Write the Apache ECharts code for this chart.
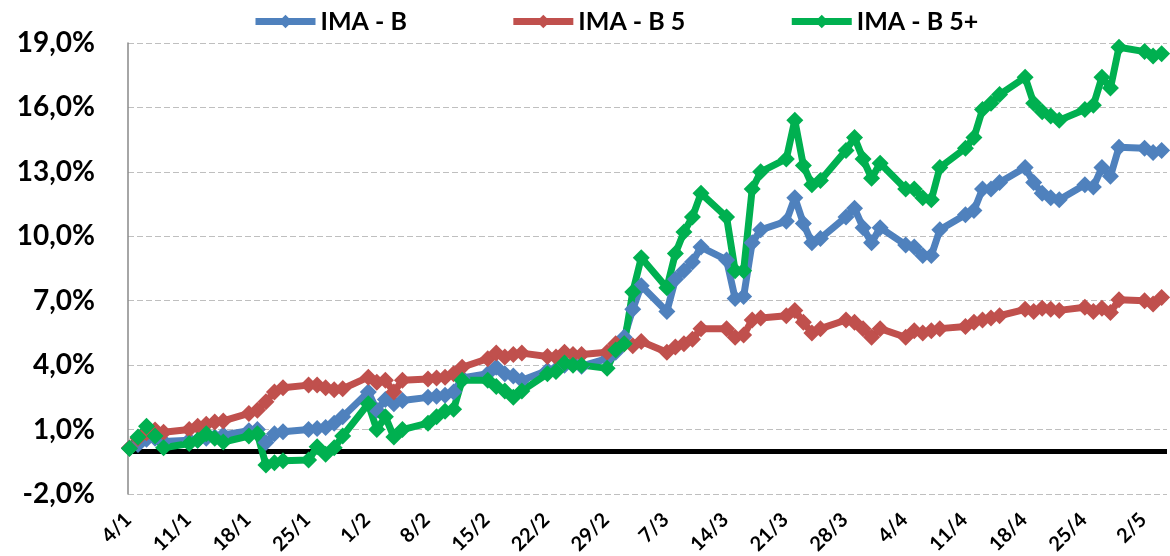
<!DOCTYPE html>
<html>
<head>
<meta charset="utf-8">
<script src="https://cdn.jsdelivr.net/npm/echarts@6/dist/echarts.min.js"></script>
<style>
html,body{margin:0;padding:0;background:#fff;}
#chart{width:1170px;height:556px;}
</style>
</head>
<body>
<div id="chart"></div>
<script>
// Dates (d/m, 2012) of the observations
const dates = ['2/1','3/1','4/1','5/1','6/1','9/1','10/1','11/1','12/1','13/1','16/1','17/1','18/1','19/1','20/1','23/1','24/1','25/1','26/1','27/1','30/1','31/1',
'1/2','2/2','3/2','6/2','7/2','8/2','9/2','10/2','13/2','14/2','15/2','16/2','17/2','20/2','21/2','22/2','23/2','24/2','27/2','28/2','29/2',
'1/3','2/3','5/3','6/3','7/3','8/3','9/3','12/3','13/3','14/3','15/3','16/3','19/3','20/3','21/3','22/3','23/3','26/3','27/3','28/3','29/3','30/3',
'2/4','3/4','4/4','5/4','6/4','9/4','10/4','11/4','12/4','13/4','16/4','17/4','18/4','19/4','20/4','23/4','24/4','25/4','26/4','27/4','30/4',
'1/5','2/5'];

// IMA - B (%)
const imaB = [0.14,0.3,0.55,0.6,0.45,0.5,0.5,0.6,0.65,0.75,0.95,1.0,0.4,0.8,0.9,1.0,1.05,1.1,1.3,1.6,2.75,1.9,
2.4,2.2,2.35,2.5,2.55,2.6,2.75,3.4,3.6,3.9,3.6,3.5,3.3,3.75,3.8,4.0,4.1,3.95,4.3,4.6,5.3,
6.6,7.7,6.5,8.0,8.4,8.8,9.5,8.9,7.1,7.2,9.7,10.3,10.7,11.8,10.6,9.7,9.9,10.9,11.3,10.4,9.7,10.4,
9.6,9.5,9.1,9.1,10.3,11.0,11.2,12.2,12.2,12.5,13.2,12.5,12.0,11.8,11.7,12.4,12.3,13.2,12.8,14.15,14.1,
13.9,14.0];

// IMA - B 5 (%)
const imaB5 = [0.14,0.6,0.85,0.98,0.88,1.0,1.15,1.25,1.35,1.4,1.75,1.9,2.3,2.75,2.95,3.07,3.07,2.95,2.85,2.9,3.44,3.2,
3.3,2.75,3.3,3.35,3.4,3.44,3.6,3.9,4.3,4.56,4.38,4.5,4.56,4.4,4.38,4.6,4.5,4.5,4.6,5.0,5.0,
4.9,5.1,4.6,4.85,5.0,5.2,5.7,5.7,5.3,5.4,6.1,6.2,6.3,6.55,6.0,5.5,5.7,6.1,6.0,5.7,5.3,5.7,
5.3,5.6,5.5,5.6,5.7,5.8,6.0,6.1,6.2,6.3,6.6,6.5,6.65,6.6,6.55,6.7,6.5,6.65,6.45,7.05,7.0,
6.85,7.15];

// IMA - B 5+ (%)
const imaB5p = [0.12,0.65,1.15,0.7,0.15,0.35,0.5,0.8,0.6,0.42,0.7,0.8,-0.65,-0.55,-0.45,-0.42,0.2,-0.15,0.15,0.7,2.2,1.0,
1.6,0.65,1.0,1.3,1.6,1.85,1.95,3.3,3.3,3.0,2.8,2.5,2.8,3.6,3.7,4.1,4.0,4.0,3.85,4.7,5.0,
7.4,9.0,7.6,9.2,10.2,10.9,12.0,10.9,8.4,8.4,12.2,13.0,13.6,15.4,13.3,12.4,12.6,14.0,14.6,13.6,12.7,13.4,
12.2,12.2,11.8,11.7,13.2,14.1,14.6,15.9,16.2,16.6,17.4,16.2,15.8,15.6,15.4,15.9,16.1,17.4,16.9,18.8,18.6,
18.4,18.5];

// X-axis tick labels
const tickLabels = ['4/1','11/1','18/1','25/1','1/2','8/2','15/2','22/2','29/2','7/3','14/3','21/3','28/3','4/4','11/4','18/4','25/4','2/5'];

const seriesNames = ['IMA - B','IMA - B 5','IMA - B 5+'];
const seriesColors = ['#4F81BD','#C0504D','#00B050'];

function dayIndex(s){
  const p = s.split('/');
  const t = Date.UTC(2012, +p[1]-1, +p[0]);
  return Math.round((t - Date.UTC(2012,0,4))/86400000);
}
const tickDays = tickLabels.map(dayIndex);
const labelByDay = {};
tickLabels.forEach((l,i)=>{ labelByDay[tickDays[i]] = l; });

function toPairs(vals){ return dates.map((d,i)=>[dayIndex(d), vals[i]]); }

const FONT = 'Lato, "Open Sans", "Liberation Sans", sans-serif';

const chart = echarts.init(document.getElementById('chart'), null, {renderer:'canvas'});
const mkSeries = (name, vals, color, extra) => Object.assign({
  name, type:'line', data: toPairs(vals),
  symbol:'diamond', symbolSize:17,
  itemStyle:{color}, lineStyle:{color, width:7},
  animation:false
}, extra || {});

chart.setOption({
  animation:false,
  legend:{
    top:4, left:247, itemGap:103, itemWidth:60, itemHeight:17,
    textStyle:{fontFamily:FONT, fontWeight:'bold', fontSize:25, color:'#000'},
    lineStyle:{width:7},
    data: seriesNames
  },
  grid:{left:128, right:3, top:43, bottom:62, containLabel:false, outerBoundsMode:'none'},
  xAxis:{
    type:'value', min:-2.17, max:119.63,
    axisLine:{show:false, onZero:false}, axisTick:{show:false}, splitLine:{show:false},
    axisLabel:{
      customValues: tickDays,
      rotate:45, margin:4, padding:[0,26,43,0],
      fontFamily:FONT, fontWeight:'bold', fontSize:20, color:'#000',
      formatter:(v)=> labelByDay[Math.round(v)] || ''
    }
  },
  yAxis:{
    type:'value', min:-2, max:19, interval:3,
    axisLine:{show:true, onZero:false, lineStyle:{color:'#888', width:1.5}},
    axisTick:{show:false},
    splitLine:{show:true, lineStyle:{color:'#BFBFBF', type:[6,3], width:1.2}},
    axisLabel:{
      margin:33, fontFamily:FONT, fontWeight:'bold', fontSize:28, color:'#000',
      formatter:(v)=> v.toFixed(1).replace('.',',') + '%'
    }
  },
  series: [
    mkSeries(seriesNames[0], imaB, seriesColors[0], {
      markLine:{
        z:1, silent:true, symbol:['none','none'], label:{show:false},
        lineStyle:{color:'#000', width:5, type:'solid'},
        data:[{yAxis:0}]
      }
    }),
    mkSeries(seriesNames[1], imaB5, seriesColors[1]),
    mkSeries(seriesNames[2], imaB5p, seriesColors[2])
  ]
});
</script>
</body>
</html>
